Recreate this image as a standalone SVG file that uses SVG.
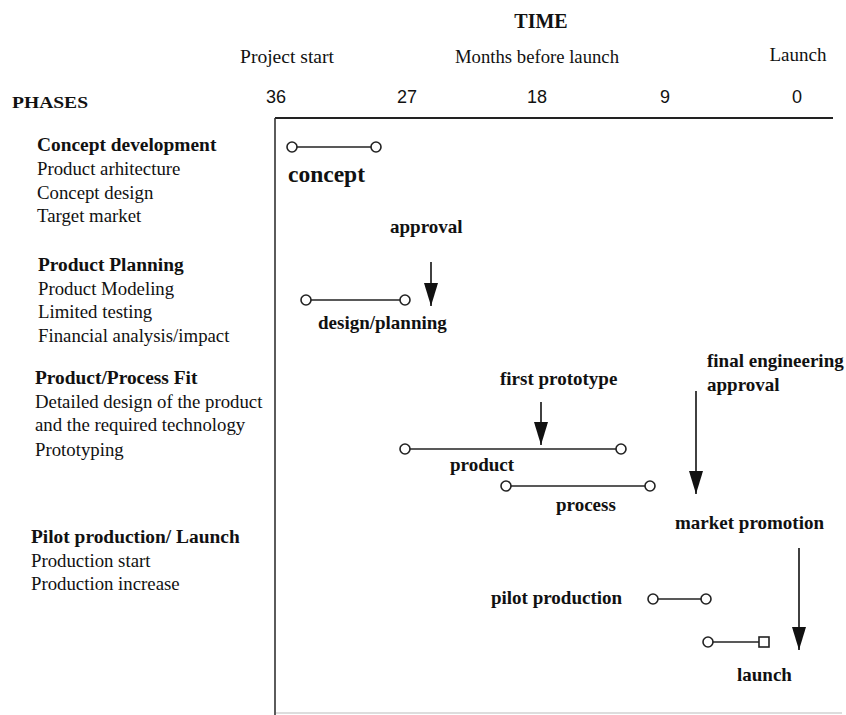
<svg xmlns="http://www.w3.org/2000/svg" width="846" height="715" viewBox="0 0 846 715">
<style>
.t{font-family:"Liberation Serif","Times New Roman",serif;fill:#111}
.b{font-weight:bold}
.n{font-family:"Liberation Sans",Arial,sans-serif;font-size:18px;fill:#111;text-anchor:middle}
.ph{font-size:18.8px}
.ph.b{font-size:19.4px}
.lb{font-size:19px;font-weight:bold}
.bar{stroke:#222;stroke-width:1.6;fill:none}
.end{stroke:#222;stroke-width:1.6;fill:#fff}
.arr{stroke:#111;stroke-width:1.6;fill:none;marker-end:url(#ah)}
</style>
<defs>
<marker id="ah" markerUnits="userSpaceOnUse" markerWidth="24" markerHeight="14" viewBox="0 0 24 14" refX="23" refY="7" orient="auto">
<path d="M0,0 L23,7 L0,14 Z" fill="#111"/>
</marker>
</defs>
<rect width="846" height="715" fill="#fff"/>
<g id="frame">
<line x1="275" y1="118" x2="833" y2="118" stroke="#222" stroke-width="2.2"/>
<line x1="275" y1="118" x2="275" y2="715" stroke="#333" stroke-width="1.6"/>
<line x1="276" y1="713" x2="842" y2="713" stroke="#bbb" stroke-width="1.2"/>
</g>
<g id="header">
<text class="t b" x="541" y="28" font-size="20" text-anchor="middle">TIME</text>
<text class="t" x="287" y="63" font-size="18" text-anchor="middle" textLength="94" lengthAdjust="spacingAndGlyphs">Project start</text>
<text class="t" x="537" y="63" font-size="18" text-anchor="middle" textLength="164" lengthAdjust="spacingAndGlyphs">Months before launch</text>
<text class="t" x="798" y="61" font-size="18" text-anchor="middle" textLength="57" lengthAdjust="spacingAndGlyphs">Launch</text>
<text class="n" x="276" y="103">36</text>
<text class="n" x="407" y="103">27</text>
<text class="n" x="537" y="103">18</text>
<text class="n" x="665" y="103">9</text>
<text class="n" x="797" y="103">0</text>
<text class="t b" x="12" y="108" font-size="17" textLength="76" lengthAdjust="spacingAndGlyphs">PHASES</text>
</g>
<g id="phase-concept">
<text class="t ph b" x="37" y="151">Concept development</text>
<text class="t ph" x="37" y="175">Product arhitecture</text>
<text class="t ph" x="37" y="199">Concept design</text>
<text class="t ph" x="37" y="222">Target market</text>
</g>
<g id="phase-planning">
<text class="t ph b" x="38" y="271">Product Planning</text>
<text class="t ph" x="38" y="295">Product Modeling</text>
<text class="t ph" x="38" y="318">Limited testing</text>
<text class="t ph" x="38" y="342">Financial analysis/impact</text>
</g>
<g id="phase-fit">
<text class="t ph b" x="35" y="384">Product/Process Fit</text>
<text class="t ph" x="35" y="408">Detailed design of the product</text>
<text class="t ph" x="35" y="431">and the required technology</text>
<text class="t ph" x="35" y="456">Prototyping</text>
</g>
<g id="phase-pilot">
<text class="t ph b" x="31" y="543">Pilot production/ Launch</text>
<text class="t ph" x="31" y="567">Production start</text>
<text class="t ph" x="31" y="590">Production increase</text>
</g>
<g id="bar-concept">
<line class="bar" x1="292" y1="147" x2="376" y2="147"/>
<circle class="end" cx="292" cy="147" r="5"/>
<circle class="end" cx="376" cy="147" r="5"/>
<text class="t b" x="288" y="182" font-size="23.5">concept</text>
</g>
<g id="bar-design">
<line class="bar" x1="306" y1="300" x2="405" y2="300"/>
<circle class="end" cx="306" cy="300" r="5"/>
<circle class="end" cx="405" cy="300" r="5"/>
<text class="t lb" x="318" y="329">design/planning</text>
</g>
<g id="milestone-approval">
<text class="t lb" x="390" y="233">approval</text>
</g>
<g id="milestone-first-prototype">
<text class="t lb" x="500" y="385">first prototype</text>
</g>
<g id="bar-product">
<line class="bar" x1="405" y1="449" x2="621" y2="449"/>
<circle class="end" cx="405" cy="449" r="5"/>
<circle class="end" cx="621" cy="449" r="5"/>
<text class="t lb" x="450" y="471">product</text>
</g>
<g id="bar-process">
<line class="bar" x1="506" y1="486" x2="650" y2="486"/>
<circle class="end" cx="506" cy="486" r="5"/>
<circle class="end" cx="650" cy="486" r="5"/>
<text class="t lb" x="556" y="511">process</text>
</g>
<g id="milestone-final-approval">
<text class="t lb" x="707" y="367">final engineering</text>
<text class="t lb" x="707" y="391">approval</text>
</g>
<g id="milestone-market-promotion">
<text class="t lb" x="675" y="529">market promotion</text>
</g>
<g id="bar-pilot">
<text class="t lb" x="491" y="604">pilot production</text>
<line class="bar" x1="653" y1="599" x2="706" y2="599"/>
<circle class="end" cx="653" cy="599" r="5"/>
<circle class="end" cx="706" cy="599" r="5"/>
</g>
<g id="bar-launch">
<line class="bar" x1="708" y1="642" x2="759" y2="642"/>
<circle class="end" cx="708" cy="642" r="5"/>
<rect class="end" x="759" y="637" width="10" height="10"/>
<text class="t lb" x="737" y="681">launch</text>
</g>
<g id="connectors">
<line class="arr" x1="431" y1="262" x2="431" y2="306"/>
<line class="arr" x1="541" y1="402" x2="541" y2="445"/>
<line class="arr" x1="696" y1="391" x2="696" y2="494"/>
<line class="arr" x1="799" y1="548" x2="799" y2="650"/>
</g>
</svg>
